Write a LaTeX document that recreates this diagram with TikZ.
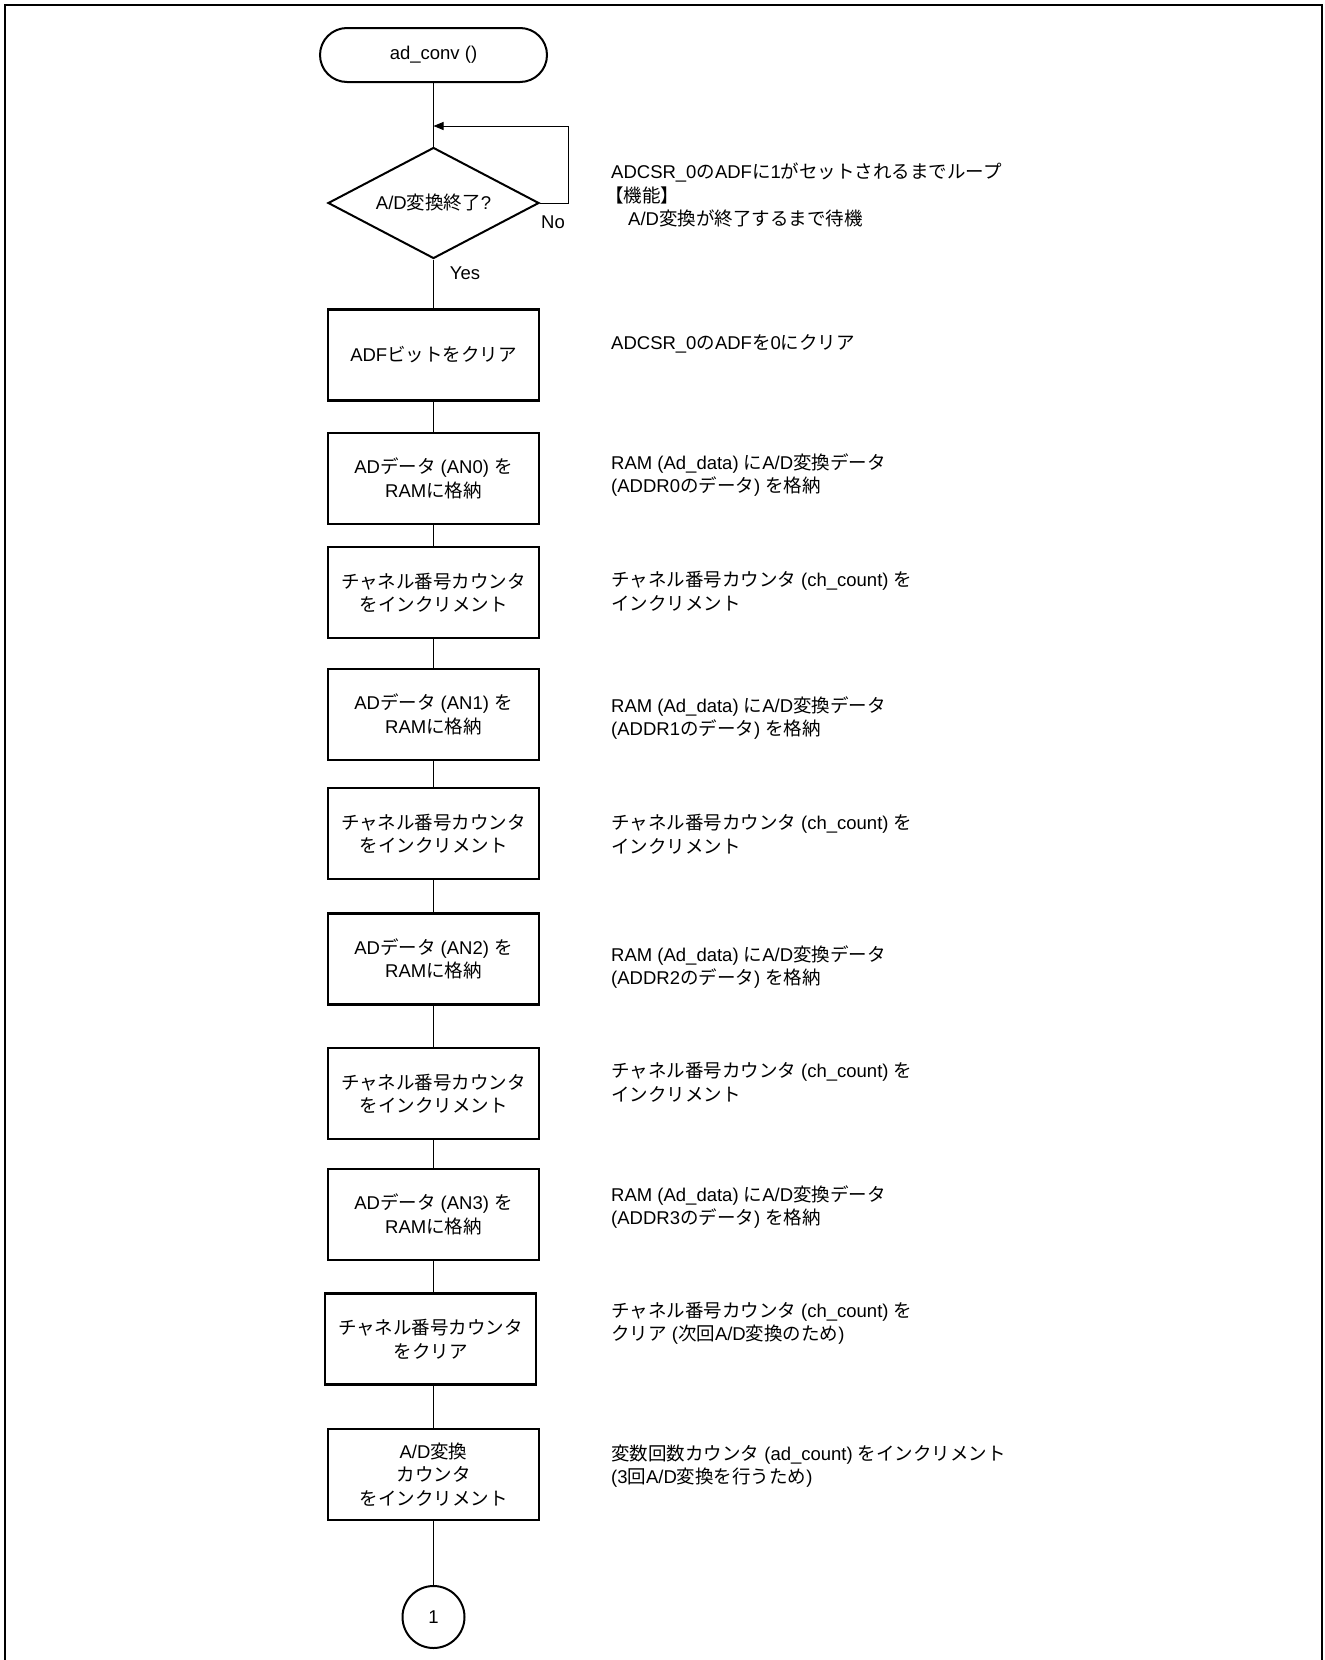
\documentclass[tikz,border=0pt]{standalone}
\usepackage{fontspec}
\setmainfont{Liberation Sans}
\newfontfamily\latfont{Liberation Sans}
\newfontfamily\cjkfont{Noto Sans CJK JP}
\usetikzlibrary{arrows.meta,shapes.geometric}
\XeTeXinterchartokenstate=1
\newXeTeXintercharclass\cjkcls
\makeatletter
\def\setcjkrange#1#2{\count@=#1\relax\loop\XeTeXcharclass\count@=\cjkcls\relax\ifnum\count@<#2\relax\advance\count@ by 1\relax\repeat}
\makeatother
\setcjkrange{"3000}{"30FF}
\setcjkrange{"4E00}{"9FFF}
\setcjkrange{"FF00}{"FFEF}
\XeTeXinterchartoks 0 \cjkcls = {\cjkfont}
\XeTeXinterchartoks 4095 \cjkcls = {\cjkfont}
\XeTeXinterchartoks \cjkcls 0 = {\latfont}
\XeTeXinterchartoks \cjkcls 4095 = {\latfont}
\tikzset{
  conn/.style={line width=0.9pt},
  proc/.style={draw, line width=2.2pt, minimum width=211pt, minimum height=91pt, align=center, inner sep=2pt},
  term/.style={draw, line width=2pt, rounded corners=27pt, minimum width=227pt, minimum height=54pt},
  dec/.style={draw, diamond, line width=2pt, minimum width=211pt, minimum height=111pt, inner sep=0pt, aspect=1.9},
  note/.style={anchor=west, align=left, inner sep=0pt},
  lbl/.style={inner sep=0pt},
  conncirc/.style={draw, circle, line width=2pt, minimum size=62pt, inner sep=0pt},
}
\begin{document}
\begin{tikzpicture}[x=1pt,y=-1pt,font=\fontsize{18.5pt}{23.5pt}\selectfont]
\useasboundingbox (0,0) rectangle (1325,1660);
\draw[line width=2.6pt] (5,1670) -- (5,5) -- (1322,5) -- (1322,1670);

\node[term] (t) at (433.5,55) {ad\_conv ()};
\node[dec] (d) at (433.5,203) {A/D変換終了?};
\coordinate (lp) at (433.5,126);
\coordinate (lr) at (568,126);
\node[lbl] (no) at (553,222) {No};
\node[lbl] (yes) at (465,273) {Yes};

\node[proc] (b1) at (433.5,355) {ADFビットをクリア};
\node[proc] (b2) at (433.5,478.5) {ADデータ (AN0) を\\RAMに格納};
\node[proc] (b3) at (433.5,592.5) {チャネル番号カウンタ\\をインクリメント};
\node[proc] (b4) at (433.5,714.5) {ADデータ (AN1) を\\RAMに格納};
\node[proc] (b5) at (433.5,833.5) {チャネル番号カウンタ\\をインクリメント};
\node[proc] (b6) at (433.5,959) {ADデータ (AN2) を\\RAMに格納};
\node[proc] (b7) at (433.5,1093.5) {チャネル番号カウンタ\\をインクリメント};
\node[proc] (b8) at (433.5,1214.5) {ADデータ (AN3) を\\RAMに格納};
\node[proc] (b9) at (430.5,1339) {チャネル番号カウンタ\\をクリア};
\node[proc] (b10) at (433.5,1474.5) {A/D変換\\カウンタ\\をインクリメント};
\node[conncirc] (c1) at (433.5,1617) {1};

\draw[conn] (t.south) -- (d.north);
\draw[conn,-{Triangle[length=10pt,width=8pt]}] (d.east) -| (lr) -- (lp);
\draw[conn] (d.south) -- (b1.north);
\draw[conn] (b1.south) -- (b2.north);
\draw[conn] (b2.south) -- (b3.north);
\draw[conn] (b3.south) -- (b4.north);
\draw[conn] (b4.south) -- (b5.north);
\draw[conn] (b5.south) -- (b6.north);
\draw[conn] (b6.south) -- (b7.north);
\draw[conn] (b7.south) -- (b8.north);
\draw[conn] (b8.south) -- (b8.south |- b9.north);
\draw[conn] (b9.south -| b10.north) -- (b10.north);
\draw[conn] (b10.south) -- (c1.north);

\node[note] (n1) at (611,195) {ADCSR\_0のADFに1がセットされるまでループ\\\hspace*{-6pt}【機能】\\\hspace*{17pt}A/D変換が終了するまで待機};
\node[note] (n2) at (611,344) {ADCSR\_0のADFを0にクリア};
\node[note] (n3) at (611,475) {RAM (Ad\_data) にA/D変換データ\\(ADDR0のデータ) を格納};
\node[note] (n4) at (611,591) {チャネル番号カウンタ (ch\_count) を\\インクリメント};
\node[note] (n5) at (611,718) {RAM (Ad\_data) にA/D変換データ\\(ADDR1のデータ) を格納};
\node[note] (n6) at (611,834) {チャネル番号カウンタ (ch\_count) を\\インクリメント};
\node[note] (n7) at (611,967) {RAM (Ad\_data) にA/D変換データ\\(ADDR2のデータ) を格納};
\node[note] (n8) at (611,1082) {チャネル番号カウンタ (ch\_count) を\\インクリメント};
\node[note] (n9) at (611,1207) {RAM (Ad\_data) にA/D変換データ\\(ADDR3のデータ) を格納};
\node[note] (n10) at (611,1323) {チャネル番号カウンタ (ch\_count) を\\クリア (次回A/D変換のため)};
\node[note] (n11) at (611,1466) {変数回数カウンタ (ad\_count) をインクリメント\\(3回A/D変換を行うため)};
\end{tikzpicture}
\end{document}
